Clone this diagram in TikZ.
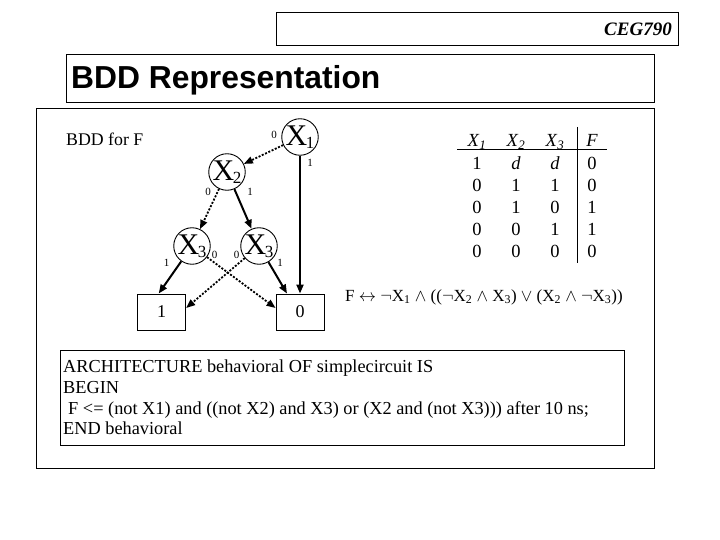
\documentclass[tikz,border=0pt]{standalone}
\usepackage{fontspec}
\setmainfont{Liberation Serif}
\newfontfamily\arialfont{Liberation Sans}
\usetikzlibrary{arrows.meta}
\newcommand\xlab[1]{{\fontsize{30}{30}\selectfont X}\kern-1.5pt\raisebox{-3pt}{\fontsize{17}{17}\selectfont #1}}
\newcommand\tx[1]{\textit{X}\textsubscript{\textit{#1}}}
\begin{document}
\begin{tikzpicture}[x=1pt,y=-1pt,
 frame/.style={draw,line width=1.2pt,inner sep=0pt,anchor=north west},
 vnode/.style={circle,draw,line width=0.9pt,minimum size=35pt,inner sep=0pt},
 leaf/.style={draw,line width=0.9pt,minimum width=48pt,minimum height=36pt,inner sep=0pt,font=\fontsize{18}{18}\selectfont},
 hi/.style={line width=2pt,-{Triangle[length=9pt,width=7pt]}},
 lo/.style={line width=1.8pt,dash pattern=on 2pt off 1.6pt,-{Triangle[length=9pt,width=7pt]}},
 elab/.style={font=\fontsize{11}{11}\selectfont,inner sep=0pt},
 cell/.style={font=\fontsize{18.5}{18.5}\selectfont,inner sep=0pt,anchor=base},
 code/.style={font=\fontsize{18.3}{20}\selectfont,inner sep=0pt,anchor=base west},
]
\useasboundingbox (0,0) rectangle (720,540);
% frames
\node[frame,minimum width=402pt,minimum height=33pt] (hdr) at (276,12) {};
\node[inner sep=0pt,anchor=base east,font=\fontsize{19}{19}\selectfont\bfseries\itshape] (ceg) at (672,36) {CEG790};
\node[frame,minimum width=588pt,minimum height=48pt] (titlebox) at (66,54) {};
\node[inner sep=0pt,anchor=base west,font=\arialfont\bfseries\fontsize{31.8}{31.8}\selectfont] (title) at (71,89) {BDD Representation};
\node[frame,minimum width=618pt,minimum height=360pt] (content) at (36,108) {};
\node[frame,line width=1pt,minimum width=564pt,minimum height=95pt] (codebox) at (60,350) {};
% BDD
\node[inner sep=0pt,anchor=base west,font=\fontsize{17.8}{17.8}\selectfont] (bddf) at (66,146) {BDD for F};
\node[vnode] (x1) at (300,137) {\xlab{1}};
\node[vnode] (x2) at (227,172) {\xlab{2}};
\node[vnode] (x3l) at (192,246) {\xlab{3}};
\node[vnode] (x3r) at (259,246) {\xlab{3}};
\node[leaf] (b1) at (161.7,312) {1};
\node[leaf] (b0) at (300,312) {0};
\draw[lo] (x1) -- (x2);
\draw[hi] (x1) -- (b0.north);
\draw[lo] (x2) -- (x3l);
\draw[hi] (x2) -- (x3r);
\draw[hi] (x3l) -- ([xshift=-3pt]b1.north);
\draw[lo] (x3l) -- ([yshift=4pt]b0.west);
\draw[lo] (x3r) -- ([yshift=4pt]b1.east);
\draw[hi] (x3r) -- ([xshift=-13pt]b0.north);
\node[elab] (l1a) at (274,135) {0};
\node[elab] (l1b) at (310,163) {1};
\node[elab] (l2a) at (208,192) {0};
\node[elab] (l2b) at (250,192) {1};
\node[elab] (l3a) at (166.5,262.5) {1};
\node[elab] (l3b) at (214.5,255) {0};
\node[elab] (l3c) at (236.5,255) {0};
\node[elab] (l3d) at (280,262.5) {1};
% table
\foreach \c/\xx in {1/477,2/516,3/555}{\node[cell] (h\c) at (\xx,147) {\tx{\c}};}
\node[cell] (h4) at (592,147) {\textit{F}};
\coordinate (rl) at (457,149);
\coordinate (rr) at (607,149);
\draw[line width=0.8pt] (rl) -- (rr);
\coordinate (vt) at (577,127);
\coordinate (vb) at (577,263);
\draw[line width=0.9pt] (vt) -- (vb);
\foreach \r/\yy/\a/\b/\cc/\f in {1/170/1/\textit{d}/\textit{d}/0, 2/192/0/1/1/0, 3/214/0/1/0/1, 4/236/0/0/1/1, 5/258/0/0/0/0}{
  \node[cell] (t\r a) at (477,\yy) {\a};
  \node[cell] (t\r b) at (516,\yy) {\b};
  \node[cell] (t\r c) at (555,\yy) {\cc};
  \node[cell] (t\r d) at (592,\yy) {\f};
}
% formula
\node[inner sep=0pt,anchor=base west,font=\fontsize{17}{17}\selectfont] (formula) at (345,301)
 {F $\leftrightarrow$ $\neg$X\textsubscript{1} $\wedge$ (($\neg$X\textsubscript{2} $\wedge$ X\textsubscript{3}) $\vee$ (X\textsubscript{2} $\wedge$ $\neg$X\textsubscript{3}))};
% code
\node[code] (c1) at (63,372) {ARCHITECTURE behavioral OF simplecircuit IS};
\node[code] (c2) at (63,393) {BEGIN};
\node[code] (c3) at (68,414) {F <= (not X1) and ((not X2) and X3) or (X2 and (not X3))) after 10 ns;};
\node[code] (c4) at (63,434) {END behavioral};
\end{tikzpicture}
\end{document}
